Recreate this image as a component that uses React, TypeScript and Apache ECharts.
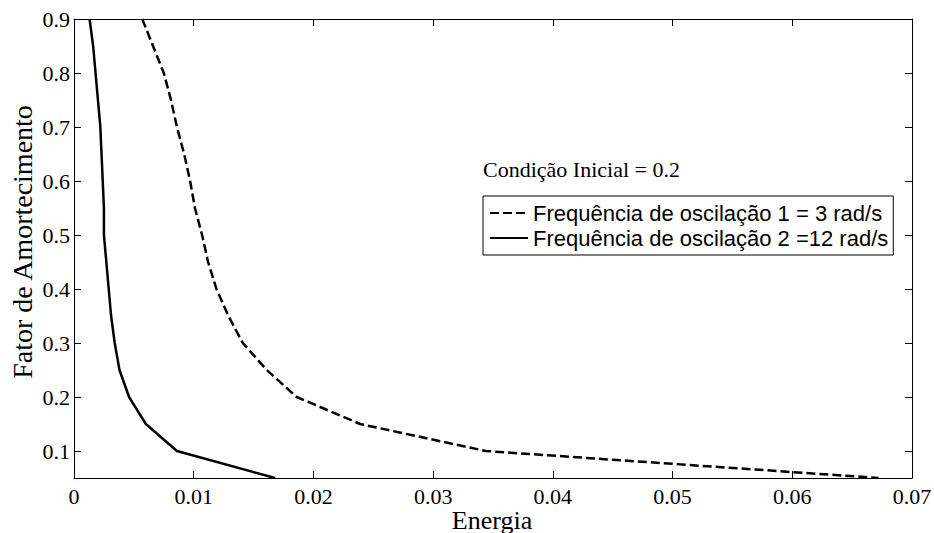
import React, { useEffect, useRef } from "react";
import * as echarts from "echarts";

const damping = [0.9, 0.85, 0.8, 0.75, 0.7, 0.65, 0.6, 0.55, 0.5, 0.45, 0.4, 0.35, 0.3, 0.25, 0.2, 0.15, 0.1, 0.05];
const energy1 = [0.0057, 0.0066, 0.0075, 0.0081, 0.0086, 0.0092, 0.0097, 0.0101, 0.0107, 0.0112, 0.0119, 0.0129, 0.0141, 0.0161, 0.0186, 0.0239, 0.0344, 0.0672];
const energy2 = [0.0013, 0.0016, 0.0018, 0.002, 0.0022, 0.0023, 0.0024, 0.0025, 0.0025, 0.0027, 0.0029, 0.0031, 0.0034, 0.0038, 0.0046, 0.006, 0.0086, 0.0168];
const series1Name = "Frequência de oscilação 1 = 3 rad/s";
const series2Name = "Frequência de oscilação 2 =12 rad/s";
const xTicks = [0, 0.01, 0.02, 0.03, 0.04, 0.05, 0.06, 0.07];
const yTicks = [0.1, 0.2, 0.3, 0.4, 0.5, 0.6, 0.7, 0.8, 0.9];
const xTitle = "Energia";
const yTitle = "Fator de Amortecimento";
const note = "Condição Inicial = 0.2";

const serif = "Times New Roman";
const sans = "Liberation Sans";

export default function App() {
  const ref = useRef<HTMLDivElement>(null);
  useEffect(() => {
    if (!ref.current) return;
    const chart = echarts.init(ref.current, null, { renderer: "svg" });
    const axisLine = { show: true, onZero: false, lineStyle: { color: "#000", width: 1 } };
    const tick = (vals: number[]) => ({ show: true, inside: true, length: 7, customValues: vals, lineStyle: { color: "#000", width: 1 } });
    const label = (vals: number[], margin: number) => ({
      customValues: vals,
      margin,
      textStyle: { fontFamily: serif, fontSize: 22, color: "#000" },
      color: "#000",
      fontFamily: serif,
      fontSize: 22,
      fontStyle: "normal",
      formatter: (v: number) => String(+v.toFixed(2)),
    });
    chart.setOption({
      animation: false,
      backgroundColor: "#fff",
      textStyle: { fontFamily: serif },
      grid: { left: 74, right: 22, top: 19, bottom: 55, containLabel: false, outerBoundsMode: "none" },
      xAxis: [
        {
          type: "value",
          min: 0,
          max: 0.07,
          interval: 0.01,
          position: "bottom",
          axisLine,
          splitLine: { show: false },
          axisTick: tick(xTicks),
          axisLabel: label(xTicks, 7),
        },
        {
          type: "value",
          min: 0,
          max: 0.07,
          interval: 0.01,
          position: "top",
          axisLine,
          splitLine: { show: false },
          axisTick: tick(xTicks),
          axisLabel: { show: false },
        },
      ],
      yAxis: [
        {
          type: "value",
          min: 0.05,
          max: 0.9,
          position: "left",
          axisLine,
          splitLine: { show: false },
          axisTick: tick(yTicks),
          axisLabel: label(yTicks, 4),
        },
        {
          type: "value",
          min: 0.05,
          max: 0.9,
          position: "right",
          axisLine,
          splitLine: { show: false },
          axisTick: tick(yTicks),
          axisLabel: { show: false },
        },
      ],
      legend: {
        orient: "vertical",
        left: 483,
        top: 196,
        padding: [6, 5, 6, 6],
        itemGap: 3,
        itemWidth: 38,
        itemHeight: 14,
        borderColor: "#000",
        borderWidth: 1,
        backgroundColor: "#fff",
        itemStyle: { opacity: 0 },
        textStyle: { fontFamily: sans, fontSize: 22, color: "#000" },
        data: [series1Name, series2Name],
      },
      graphic: [
        {
          type: "text",
          left: 483,
          top: 158,
          style: { text: note, fontFamily: serif, fontSize: 22, fill: "#000" },
        },
        {
          type: "text",
          x: 492,
          y: 520,
          style: { text: xTitle, fontFamily: serif, fontSize: 26, fill: "#000", align: "center", verticalAlign: "middle" },
        },
        {
          type: "text",
          x: 22,
          y: 242,
          rotation: Math.PI / 2,
          style: { text: yTitle, fontFamily: serif, fontSize: 28, fill: "#000", align: "center", verticalAlign: "middle" },
        },
      ],
      series: [
        {
          name: series1Name,
          type: "line",
          showSymbol: false,
          symbol: "none",
          data: energy1.map((e, i) => [e, damping[i]]),
          lineStyle: { color: "#000", width: 2.5, type: [9, 4] },
          itemStyle: { color: "#000" },
        },
        {
          name: series2Name,
          type: "line",
          showSymbol: false,
          symbol: "none",
          data: energy2.map((e, i) => [e, damping[i]]),
          lineStyle: { color: "#000", width: 2.5, type: "solid" },
          itemStyle: { color: "#000" },
        },
      ],
    });
    return () => chart.dispose();
  }, []);
  return <div ref={ref} style={{ width: 934, height: 533, position: "absolute", left: 0, top: 0 }} />;
}
